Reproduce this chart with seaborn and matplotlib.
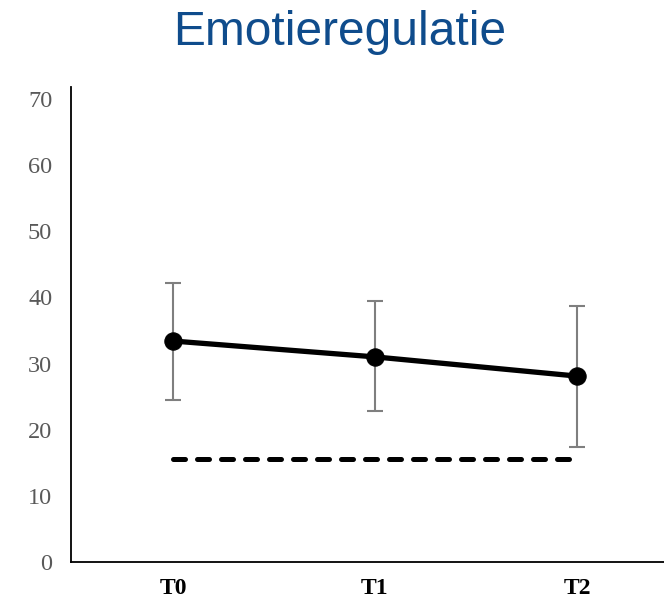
import matplotlib
matplotlib.use("Agg")
import matplotlib.pyplot as plt
import seaborn as sns
import pandas as pd
import numpy as np

categories = ["T0", "T1", "T2"]
means = [33.4, 31.0, 28.1]
err_low = [24.5, 22.8, 17.4]
err_high = [42.1, 39.4, 38.7]
norm_values = [15.6, 15.6, 15.6]
y_ticks = [0, 10, 20, 30, 40, 50, 60, 70]

sns.set_theme(style="white")
plt.rcParams['font.family'] = ['Liberation Serif', 'DejaVu Serif']

df = pd.DataFrame({"tijd": categories, "gem": means, "norm": norm_values})
df["x"] = np.arange(len(categories))

fig = plt.figure(figsize=(6.64, 5.99), dpi=100)
ax = fig.add_axes([0.1069, 0.0618, 1.0 - 0.1069, 0.7930])

# error bars
yerr = np.array([np.array(means) - np.array(err_low), np.array(err_high) - np.array(means)])
ax.errorbar(df["x"], df["gem"], yerr=yerr, fmt="none", ecolor="#7f7f7f",
            elinewidth=1.5, capsize=6, capthick=1.5, zorder=2)

# norm dashed line
sns.lineplot(data=df, x="x", y="norm", ax=ax, color="black", linewidth=3.6,
             linestyle=(0, (2.4, 2.4)), dash_capstyle="round", zorder=3)

# means line
sns.lineplot(data=df, x="x", y="gem", ax=ax, color="black", linewidth=3.8,
             marker="o", markersize=12.5, markeredgecolor="black", zorder=4)

ax.set_xlim(-0.505, 2.431)
ax.set_ylim(0, 71.8)
ax.set_yticks(y_ticks)
ax.set_yticklabels([str(v) for v in y_ticks], color="#595959", fontsize=17.5)
ax.set_xticks(df["x"])
ax.set_xticklabels(categories, fontsize=17, fontweight="bold", color="black")
ax.tick_params(axis="y", length=0, pad=13.5)
ax.tick_params(axis="x", length=0, pad=11.5)
ax.set_xlabel("")
ax.set_ylabel("")
for s in ["top", "right"]:
    ax.spines[s].set_visible(False)
for s in ["left", "bottom"]:
    ax.spines[s].set_color("black")
    ax.spines[s].set_linewidth(1.3)

fig.text(340 / 664, 1 - 45 / 599, "Emotieregulatie", fontsize=34.5,
         color="#0F4C8C", ha="center", va="baseline",
         family=["Liberation Sans", "DejaVu Sans"])

fig.savefig("out.png", dpi=100)
